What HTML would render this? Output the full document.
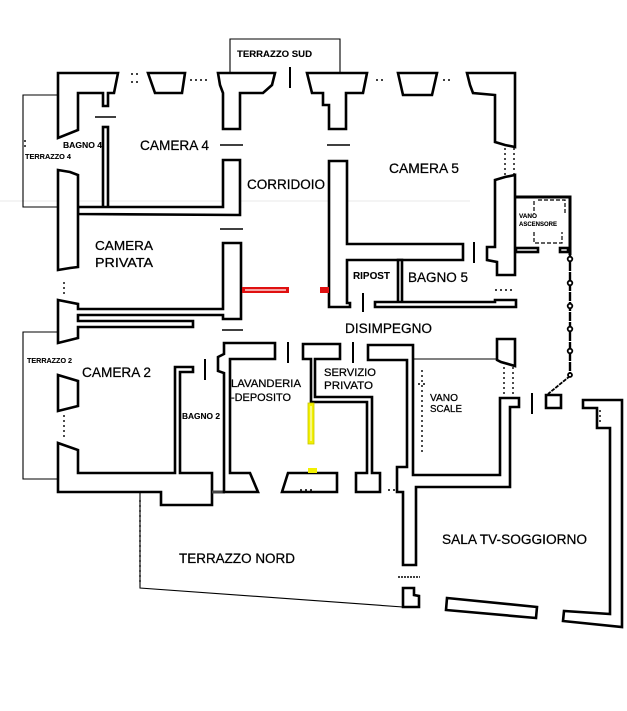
<!DOCTYPE html>
<html><head><meta charset="utf-8"><style>
html,body{margin:0;padding:0;background:#fff;}
svg{display:block;}
text{font-family:"Liberation Sans",Arial,sans-serif;fill:#000;stroke:#000;stroke-width:0.25;}
.w{fill:#fff;stroke:#000;stroke-width:2.6;stroke-linejoin:miter;}
.t{fill:none;stroke:#000;stroke-width:1.1;}
.b{font-weight:bold;stroke-width:0.1;}
</style></head><body>
<svg width="627" height="711" viewBox="0 0 627 711" xmlns="http://www.w3.org/2000/svg">
<!-- faint scan line -->
<line x1="0" y1="201" x2="470" y2="201" stroke="#e8e8e8" stroke-width="1"/>

<!-- terraces (thin lines) -->
<polyline class="t" points="230,73 230,39 340,39 340,73"/>
<polyline class="t" points="58,95 23,95 23,207 58,207"/>
<polyline class="t" points="58,332 23,332 23,479 58,479"/>
<polyline class="t" points="140,492 140,588 403,607"/>
<line x1="413" y1="359" x2="497" y2="359" class="t"/>

<!-- walls -->
<polygon class="w" points="58,73 118,73 114,93 108,93 108,106 103,106 103,93 78,93 78,130 58,138"/>
<rect class="w" x="103" y="127" width="5" height="82"/>
<polygon class="w" points="148,73 185,73 182,93 155,93"/>
<polygon class="w" points="218,73 275,73 272,85 263,93 240,93 240,129 223,129 223,93 220,85"/>
<polygon class="w" points="78,207 223,207 223,160 240,160 240,215 78,214"/>
<polygon class="w" points="58,170 70,172 78,175 78,267 70,268 58,270"/>
<polygon class="w" points="58,300 78,304 78,309 223,309 223,243 241,243 241,319 223,319 223,315 78,315 78,321 193,321 193,327 78,327 78,338 58,343"/>
<polygon class="w" points="58,375 78,381 78,406 58,411"/>
<polygon class="w" points="58,443 78,450 78,473 175,473 175,367 193,367 193,372 180,372 180,473 212,473 212,505 161,505 161,492 58,492"/>
<line x1="212" y1="492" x2="225" y2="492" stroke="#444" stroke-width="3"/>
<polygon class="w" points="224,343 275,343 275,359 230,359 230,473 250,473 258,492 224,492 224,373 218,371 218,357 224,354"/>
<polygon class="w" points="282,492 288,473 337,473 337,492"/>
<polygon class="w" points="303,344 340,344 340,359 315,359 315,397 372,397 372,473 380,473 380,492 356,492 356,473 367,473 367,402 311,402 311,359 303,359"/>
<polygon class="w" points="368,345 413,345 413,475 500,475 500,398 519,398 519,407 510,407 510,487 416,487 416,565 403,565 403,492 397,492 397,467 407,467 407,360 368,360"/>
<polygon class="w" points="497,339 515,339 515,366 501,362 497,360"/>
<polygon class="w" points="307,73 367,73 363,93 346,93 346,129 329,129 329,105 323,105 323,93 312,93"/>
<polygon class="w" points="398,73 437,73 432,95 403,95"/>
<polygon class="w" points="467,73 515,73 515,147 505,145 495,142 495,95 473,93 470,85"/>
<polygon class="w" points="495,180 505,177 515,175 515,275 497,275 497,262 487,260 487,247 495,247"/>
<polygon class="w" points="329,161 347,161 347,244 463,244 463,260 347,260 347,303 350,303 350,307 329,307"/>
<rect class="w" x="398" y="260" width="4" height="43"/>
<polygon class="w" points="375,302 495,302 495,300 516,300 516,307 375,307"/>
<!-- ascensore -->
<polyline fill="none" stroke="#000" stroke-width="3" points="515,197 570,197 570,255"/>
<line x1="570" y1="252" x2="570" y2="376" stroke="#000" stroke-width="2.4" stroke-dasharray="9,1"/>
<line x1="570" y1="376" x2="548" y2="394" stroke="#000" stroke-width="1.8" stroke-dasharray="4,1"/>
<g fill="#fff" stroke="#000" stroke-width="1.8">
<circle cx="570" cy="259" r="2.3"/><circle cx="570" cy="283" r="2.3"/><circle cx="570" cy="306" r="2.3"/><circle cx="570" cy="329" r="2.3"/><circle cx="570" cy="351" r="2.3"/><circle cx="570" cy="375" r="2"/>
</g>
<rect class="w" x="516" y="248" width="22" height="4"/>
<rect class="w" x="560" y="248" width="8" height="4"/>
<polyline fill="none" stroke="#000" stroke-width="1.2" stroke-dasharray="4,2" points="534,201 534,214"/>
<polyline fill="none" stroke="#000" stroke-width="1.2" stroke-dasharray="4,2" points="534,232 534,243 562,243 562,232"/>
<polyline fill="none" stroke="#000" stroke-width="1.2" stroke-dasharray="4,2" points="538,200 565,200 565,213"/>
<!-- lower right -->
<polygon class="w" points="546,395 561,395 561,408 546,408"/>
<polygon class="w" points="583,400 622,400 622,627 563,621 564,611 610,614 610,428 597,428 597,408 583,408"/>
<polygon class="w" points="447,598 537,607 536,618 446,610"/>
<polygon class="w" points="403,588 414,588 414,595 419,596 419,607 403,607"/>
<line x1="398" y1="577" x2="420" y2="577" stroke="#000" stroke-width="1.5" stroke-dasharray="2,1"/>

<!-- door lines -->
<g stroke="#000" stroke-width="1.6">
<line x1="95" y1="117" x2="116" y2="117"/>
<line x1="220" y1="145" x2="243" y2="145"/>
<line x1="220" y1="229" x2="243" y2="229"/>
<line x1="222" y1="330" x2="243" y2="330"/>
<line x1="327" y1="145" x2="350" y2="145"/>
</g>
<g stroke="#000" stroke-width="2">
<line x1="290" y1="67" x2="290" y2="88"/>
<line x1="474" y1="242" x2="474" y2="263"/>
<line x1="363" y1="293" x2="363" y2="312"/>
<line x1="288" y1="342" x2="288" y2="363"/>
<line x1="353" y1="342" x2="353" y2="363"/>
<line x1="205" y1="359" x2="205" y2="380"/>
<line x1="532" y1="393" x2="532" y2="414"/>
</g>

<!-- dotted windows / scan specks -->
<g stroke="#000" stroke-width="1.4" stroke-dasharray="2,3" fill="none">
<line x1="131" y1="74" x2="141" y2="74"/>
<line x1="131" y1="82" x2="141" y2="82"/>
<line x1="190" y1="80" x2="210" y2="80"/>
<line x1="376" y1="80" x2="384" y2="80"/>
<line x1="443" y1="80" x2="453" y2="80"/>
<line x1="505" y1="148" x2="505" y2="175"/>
<line x1="514" y1="148" x2="514" y2="175"/>
<line x1="64" y1="282" x2="64" y2="296"/>
<line x1="64" y1="415" x2="64" y2="440"/>
<line x1="504" y1="367" x2="504" y2="396"/>
<line x1="513" y1="367" x2="513" y2="396"/>
<line x1="422" y1="370" x2="422" y2="455"/>
<line x1="140" y1="500" x2="140" y2="585"/>
<line x1="25" y1="140" x2="25" y2="150"/>
<line x1="418" y1="384" x2="428" y2="384"/>
<line x1="600" y1="410" x2="600" y2="425"/>
<line x1="300" y1="490" x2="312" y2="490"/>
<line x1="388" y1="490" x2="395" y2="490"/>
<line x1="495" y1="290" x2="512" y2="290"/>
</g>

<!-- red & yellow -->
<rect x="242" y="287" width="47" height="6" fill="#e01010"/>
<line x1="245" y1="290" x2="286" y2="290" stroke="#fff" stroke-width="1.2"/>
<rect x="320" y="287" width="9" height="6" fill="#e01010"/>
<rect x="308" y="403" width="6" height="41" fill="#f2f000" stroke="#c8c800" stroke-width="0.8"/>
<line x1="311" y1="406" x2="311" y2="441" stroke="#fff" stroke-width="1"/>
<rect x="308" y="468" width="9" height="5" fill="#f2f000"/>

<!-- labels -->
<text class="b" x="237" y="57" font-size="9.5" textLength="75" lengthAdjust="spacingAndGlyphs">TERRAZZO SUD</text>
<text x="140" y="150" font-size="14" textLength="69" lengthAdjust="spacingAndGlyphs">CAMERA 4</text>
<text class="b" x="63" y="148" font-size="8" textLength="39" lengthAdjust="spacingAndGlyphs">BAGNO 4</text>
<text class="b" x="25" y="159" font-size="7" textLength="46" lengthAdjust="spacingAndGlyphs">TERRAZZO 4</text>
<text x="247" y="189" font-size="13.5" textLength="78" lengthAdjust="spacingAndGlyphs">CORRIDOIO</text>
<text x="389" y="173" font-size="14" textLength="70" lengthAdjust="spacingAndGlyphs">CAMERA 5</text>
<text x="95" y="250" font-size="13" textLength="58" lengthAdjust="spacingAndGlyphs">CAMERA</text>
<text x="95" y="267" font-size="13" textLength="58" lengthAdjust="spacingAndGlyphs">PRIVATA</text>
<text class="b" x="519" y="218" font-size="6" textLength="18" lengthAdjust="spacingAndGlyphs">VANO</text>
<text class="b" x="519" y="226" font-size="6" textLength="38" lengthAdjust="spacingAndGlyphs">ASCENSORE</text>
<text class="b" x="353" y="279" font-size="10" textLength="37" lengthAdjust="spacingAndGlyphs">RIPOST</text>
<text x="408" y="282" font-size="13.5" textLength="60" lengthAdjust="spacingAndGlyphs">BAGNO 5</text>
<text x="345" y="333" font-size="13.5" textLength="87" lengthAdjust="spacingAndGlyphs">DISIMPEGNO</text>
<text class="b" x="27" y="363" font-size="7" textLength="45" lengthAdjust="spacingAndGlyphs">TERRAZZO 2</text>
<text x="82" y="377" font-size="14" textLength="69" lengthAdjust="spacingAndGlyphs">CAMERA 2</text>
<text x="231" y="387" font-size="11" textLength="70" lengthAdjust="spacingAndGlyphs">LAVANDERIA</text>
<text x="231" y="401" font-size="11" textLength="60" lengthAdjust="spacingAndGlyphs">-DEPOSITO</text>
<text x="324" y="376" font-size="11" textLength="52" lengthAdjust="spacingAndGlyphs">SERVIZIO</text>
<text x="324" y="389" font-size="11" textLength="49" lengthAdjust="spacingAndGlyphs">PRIVATO</text>
<text x="430" y="401" font-size="10" textLength="28" lengthAdjust="spacingAndGlyphs">VANO</text>
<text x="430" y="412" font-size="10" textLength="32" lengthAdjust="spacingAndGlyphs">SCALE</text>
<text class="b" x="182" y="419" font-size="8" textLength="38" lengthAdjust="spacingAndGlyphs">BAGNO 2</text>
<text x="179" y="563" font-size="13.5" textLength="116" lengthAdjust="spacingAndGlyphs">TERRAZZO NORD</text>
<text x="442" y="544" font-size="13.5" textLength="145" lengthAdjust="spacingAndGlyphs">SALA TV-SOGGIORNO</text>
</svg>
</body></html>
